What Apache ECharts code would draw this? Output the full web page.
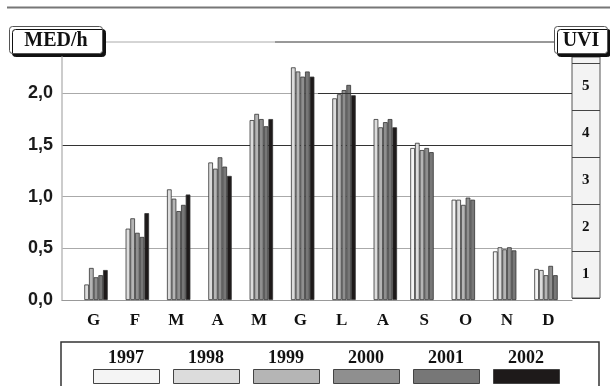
<!DOCTYPE html>
<html>
<head>
<meta charset="utf-8">
<script src="https://cdn.jsdelivr.net/npm/echarts@6/dist/echarts.min.js"></script>
<style>
  html, body { margin: 0; padding: 0; background: #fff; }
  #chart { width: 610px; height: 386px; }
</style>
</head>
<body>
<div id="chart"></div>
<script>
// mesi in italiano
const months = ['G', 'F', 'M', 'A', 'M', 'G', 'L', 'A', 'S', 'O', 'N', 'D']
const years = ['1997', '1998', '1999', '2000', '2001', '2002']
const uviLevels = ['1', '2', '3', '4', '5']

// MED/h media mensile per anno (1997 parte da settembre, 2002 finisce ad agosto)
const y1997 = [null, null, null, null, null, null, null, null, 1.47, 0.97, 0.47, 0.30]
const y1998 = [0.15, 0.69, 1.07, 1.33, 1.74, 2.25, 1.95, 1.75, 1.52, 0.97, 0.51, 0.29]
const y1999 = [0.31, 0.79, 0.98, 1.27, 1.80, 2.21, 1.99, 1.67, 1.45, 0.92, 0.49, 0.24]
const y2000 = [0.22, 0.65, 0.86, 1.38, 1.75, 2.16, 2.03, 1.72, 1.47, 0.99, 0.51, 0.33]
const y2001 = [0.24, 0.61, 0.92, 1.29, 1.68, 2.21, 2.08, 1.75, 1.43, 0.97, 0.48, 0.24]
const y2002 = [0.29, 0.84, 1.02, 1.20, 1.75, 2.16, 1.98, 1.67, null, null, null, null]

const yearData = [y1997, y1998, y1999, y2000, y2001, y2002]
const GRAYS = ['#f4f4f4', '#dcdcdc', '#b5b5b5', '#8f8f8f', '#777777', '#1e1a1a']

const SERIF = "'Liberation Serif', 'DejaVu Serif', serif"
const SANS = "'Liberation Sans', Arial, sans-serif"
const MED_MAX = 2.35

const chart = echarts.init(document.getElementById('chart'), null, { renderer: 'canvas' })

const series = years.map((y, i) => ({
  name: y,
  type: 'bar',
  xAxisIndex: 0,
  yAxisIndex: 0,
  data: yearData[i],
  barGap: '0%',
  barCategoryGap: '32%',
  itemStyle: { color: GRAYS[i], borderColor: '#333', borderWidth: 0.8 },
  emphasis: { disabled: true },
  animation: false
}))

// tratto scuro della linea 2,0 sulla destra
series.push({
  name: 'ref',
  type: 'line',
  xAxisIndex: 1,
  yAxisIndex: 1,
  data: [],
  silent: true,
  markLine: {
    silent: true,
    symbol: 'none',
    label: { show: false },
    lineStyle: { color: '#333', width: 1, type: 'solid' },
    data: [[{ coord: [0.502, 2] }, { coord: [1, 2] }]]
  }
})

const titleBox = (x, w, text) => ({
  type: 'group',
  left: x,
  top: 26,
  children: [
    {
      type: 'rect',
      shape: { x: 0, y: 0, width: w, height: 27, r: 3 },
      style: {
        fill: '#fff', stroke: '#555', lineWidth: 1,
        shadowColor: '#111', shadowBlur: 0, shadowOffsetX: 3, shadowOffsetY: 3
      }
    },
    {
      type: 'text',
      x: w / 2,
      y: 14,
      style: {
        text: text, font: 'bold 20px ' + SERIF, fill: '#111',
        align: 'center', verticalAlign: 'middle'
      }
    }
  ]
})

const option = {
  backgroundColor: '#fff',
  animation: false,
  grid: [
    { left: 73, right: 41, top: 57, bottom: 86 },
    { left: 62, right: 38, top: 57, bottom: 86 },
    // colonna UVI: fondo e celle
    { left: 572, right: 10, top: 57, bottom: 88, show: true, backgroundColor: '#f3f3f3', borderColor: '#555', borderWidth: 1 },
    { left: 572, right: 10, top: 63, bottom: 88 }
  ],
  legend: [
    {
      data: years,
      left: 61,
      top: 342,
      icon: 'rect',
      itemWidth: 66,
      itemHeight: 14,
      itemGap: 13,
      formatter: () => '',
      padding: [27, 39, 20, 32],
      borderColor: '#333',
      borderWidth: 1.5,
      itemStyle: { borderColor: '#444', borderWidth: 1 },
      textStyle: { fontSize: 1 }
    },
    {
      data: years,
      left: 98,
      top: 344,
      icon: 'rect',
      itemWidth: 0,
      itemHeight: 18,
      itemGap: 39,
      itemStyle: { opacity: 0, borderWidth: 0 },
      textStyle: { fontFamily: SERIF, fontWeight: 'bold', fontSize: 18, color: '#111' }
    }
  ],
  xAxis: [
    {
      gridIndex: 0,
      type: 'category',
      data: months,
      axisLine: { show: false },
      axisTick: { show: false },
      axisLabel: { margin: 12, fontFamily: SERIF, fontWeight: 'bold', fontSize: 17, color: '#111' }
    },
    {
      gridIndex: 1,
      type: 'value',
      min: 0,
      max: 1,
      axisLine: { show: true, lineStyle: { color: '#999', width: 1.2 } },
      axisTick: { show: false },
      axisLabel: { show: false },
      splitLine: { show: false }
    },
    { gridIndex: 2, type: 'value', show: false },
    { gridIndex: 3, type: 'value', show: false }
  ],
  yAxis: [
    { gridIndex: 0, type: 'value', min: 0, max: MED_MAX, show: false },
    {
      gridIndex: 1,
      type: 'value',
      min: 0,
      max: MED_MAX,
      interval: 0.5,
      axisLine: { show: true, lineStyle: { color: '#bbb', width: 1.5 } },
      axisTick: { show: false },
      axisLabel: {
        margin: 9,
        showMaxLabel: false,
        fontFamily: SANS,
        fontWeight: 'bold',
        fontSize: 18,
        color: '#1a1a1a',
        formatter: v => (Math.round(v * 2) === v * 2 ? v.toFixed(1).replace('.', ',') : '')
      },
      splitLine: {
        show: true,
        showMaxLine: false,
        lineStyle: { color: ['#999', '#aaa', '#aaa', '#333', '#aaa', 'rgba(0,0,0,0)'], width: 1 }
      }
    },
    { gridIndex: 2, type: 'value', show: false },
    {
      gridIndex: 3,
      type: 'category',
      data: uviLevels,
      boundaryGap: true,
      axisLine: { show: false },
      axisTick: { show: false },
      axisLabel: {
        inside: true,
        margin: 10,
        fontFamily: SERIF,
        fontWeight: 'bold',
        fontSize: 15,
        color: '#111'
      },
      splitLine: { show: true, lineStyle: { color: '#444', width: 1 } }
    }
  ],
  graphic: [
    { type: 'line', shape: { x1: 7, y1: 7.5, x2: 610, y2: 7.5 }, style: { stroke: '#777', lineWidth: 2 } },
    { type: 'line', shape: { x1: 105, y1: 42, x2: 275, y2: 42 }, style: { stroke: '#aaa', lineWidth: 1 } },
    { type: 'line', shape: { x1: 275, y1: 42, x2: 554, y2: 42 }, style: { stroke: '#333', lineWidth: 1 } },
    titleBox(9, 93, 'MED/h'),
    titleBox(554, 53, 'UVI')
  ],
  series: series
}

chart.setOption(option)
</script>
</body>
</html>
